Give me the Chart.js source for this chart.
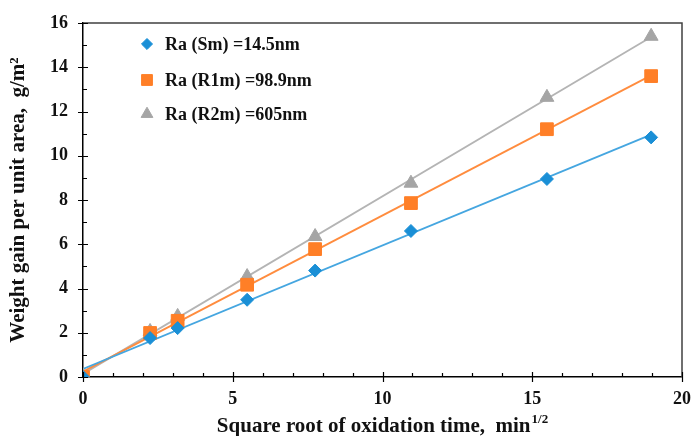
<!DOCTYPE html>
<html>
<head>
<meta charset="utf-8">
<script src="https://cdn.jsdelivr.net/npm/chart.js@4.4.1/dist/chart.umd.min.js"></script>
<style>
  html, body { margin: 0; padding: 0; background: #ffffff; }
  #wrap { width: 695px; height: 436px; }
</style>
</head>
<body>
<div id="wrap"><canvas id="c" width="695" height="436"></canvas></div>
<script>
// ---- data ----
const xValues   = [0, 2.24, 3.16, 5.48, 7.75, 10.95, 15.49, 18.97];   // sqrt(min)
const seriesSm  = [0, 1.76, 2.21, 3.49, 4.81, 6.60, 8.95, 10.83];
const seriesR1m = [0, 1.99, 2.54, 4.17, 5.78, 7.86, 11.20, 13.60];
const seriesR2m = [0.05, 2.06, 2.74, 4.54, 6.35, 8.76, 12.64, 15.40];
const seriesLabels = ['Ra (Sm) =14.5nm', 'Ra (R1m) =98.9nm', 'Ra (R2m) =605nm'];
const seriesColors = ['#1a8fd6', '#ff7f27', '#a5a5a5'];
const lineColors   = ['#45a6e0', '#ff8c3e', '#b4b4b4'];
const pointStyles  = ['rectRot', 'rect', 'triangle'];
const pointRadii   = [6.5, 9, 8];
const xTicks = [0, 5, 10, 15, 20];
const yTicks = [0, 2, 4, 6, 8, 10, 12, 14, 16];
const xTitle = 'Square root of oxidation time,  min';
const xTitleSup = '1/2';
const yTitle = 'Weight gain per unit area,  g/m²';

const allSeries = [seriesSm, seriesR1m, seriesR2m];
const toPoints = ys => xValues.map((x, i) => ({ x: x, y: ys[i] }));

// Linear least-squares trend line (as in the original spreadsheet chart)
function trend(ys) {
  const n = xValues.length;
  let sx = 0, sy = 0, sxx = 0, sxy = 0;
  for (let i = 0; i < n; i++) { sx += xValues[i]; sy += ys[i]; sxx += xValues[i] * xValues[i]; sxy += xValues[i] * ys[i]; }
  const m = (n * sxy - sx * sy) / (n * sxx - sx * sx);
  const b = (sy - m * sx) / n;
  const x0 = xValues[0], x1 = xValues[n - 1];
  return [{ x: x0, y: m * x0 + b }, { x: x1, y: m * x1 + b }];
}

const datasets = [];
allSeries.forEach((ys, i) => {
  datasets.push({
    label: seriesLabels[i],
    data: toPoints(ys),
    showLine: false,
    pointStyle: pointStyles[i],
    pointRadius: pointRadii[i],
    pointHoverRadius: pointRadii[i],
    backgroundColor: seriesColors[i],
    borderColor: seriesColors[i],
    pointBorderWidth: 1,
    order: 0
  });
});
allSeries.forEach((ys, i) => {
  datasets.push({
    label: seriesLabels[i] + ' trend',
    data: trend(ys),
    showLine: true,
    pointRadius: 0,
    borderColor: lineColors[i],
    borderWidth: 1.8,
    fill: false,
    order: 1
  });
});

const FONT = '"Liberation Serif", "Times New Roman", serif';

const decor = {
  id: 'decor',
  afterDraw(chart) {
    const ctx = chart.ctx;
    const xs = chart.scales.x, ys = chart.scales.y;
    const a = chart.chartArea;
    ctx.save();
    // frame top / right
    ctx.strokeStyle = '#404040';
    ctx.lineWidth = 1.5;
    ctx.beginPath();
    ctx.moveTo(a.left, a.top); ctx.lineTo(a.right, a.top); ctx.lineTo(a.right, a.bottom);
    ctx.stroke();
    // ticks
    ctx.strokeStyle = '#000';
    ctx.lineWidth = 1.2;
    ctx.beginPath();
    for (let v = xs.min; v <= xs.max; v += 1) {
      const px = Math.round(xs.getPixelForValue(v)) + 0.5;
      if (xTicks.includes(v)) { ctx.moveTo(px, a.bottom - 5); ctx.lineTo(px, a.bottom + 5); }
      else { ctx.moveTo(px, a.bottom); ctx.lineTo(px, a.bottom - 4); }
    }
    for (let v = ys.min; v <= ys.max; v += 1) {
      const py = Math.round(ys.getPixelForValue(v)) + 0.5;
      if (yTicks.includes(v)) { ctx.moveTo(a.left - 5, py); ctx.lineTo(a.left + 5, py); }
      else { ctx.moveTo(a.left, py); ctx.lineTo(a.left + 4, py); }
    }
    ctx.stroke();
    // x title with superscript
    ctx.fillStyle = '#111';
    ctx.font = 'bold 21px ' + FONT;
    const wMain = ctx.measureText(xTitle).width;
    ctx.font = 'bold 13px ' + FONT;
    const wSup = ctx.measureText(xTitleSup).width;
    const cx = (a.left + a.right) / 2;
    const startX = cx - (wMain + wSup + 1) / 2;
    const baseY = 432;
    ctx.textBaseline = 'alphabetic';
    ctx.textAlign = 'left';
    ctx.font = 'bold 21px ' + FONT;
    ctx.fillText(xTitle, startX, baseY);
    ctx.font = 'bold 13px ' + FONT;
    ctx.fillText(xTitleSup, startX + wMain + 1, baseY - 9);
    // legend
    const lx = 147, tx = 165, rows = [44, 80, 114];
    chart.data.datasets.slice(0, 3).forEach((ds, i) => {
      ctx.fillStyle = ds.backgroundColor;
      ctx.strokeStyle = ds.borderColor;
      ctx.lineWidth = 1;
      Chart.helpers.drawPoint(ctx, { pointStyle: ds.pointStyle, radius: ds.pointRadius * 0.85, borderWidth: 1, rotation: 0 }, lx, rows[i]);
      ctx.fillStyle = '#111';
      ctx.font = 'bold 18px ' + FONT;
      ctx.textBaseline = 'middle';
      ctx.fillText(ds.label, tx, rows[i] + 1);
    });
    ctx.restore();
  }
};

new Chart(document.getElementById('c'), {
  type: 'scatter',
  data: { datasets: datasets },
  options: {
    responsive: false,
    animation: false,
    layout: { padding: { top: 23, right: 3, left: 0, bottom: 0 } },
    plugins: { legend: { display: false }, tooltip: { enabled: false } },
    scales: {
      x: {
        type: 'linear', min: 0, max: 20,
        afterFit: s => { s.height = 59; },
        afterBuildTicks: s => { s.ticks = xTicks.map(v => ({ value: v })); },
        grid: { display: false },
        border: { display: true, color: '#000', width: 1.5 },
        ticks: { color: '#111', padding: 4, font: { family: FONT, size: 18, weight: 'bold' }, maxRotation: 0 }
      },
      y: {
        type: 'linear', min: 0, max: 16,
        afterFit: s => { s.width = 83; },
        afterBuildTicks: s => { s.ticks = yTicks.map(v => ({ value: v })); },
        grid: { display: false },
        border: { display: true, color: '#000', width: 1.5 },
        ticks: { color: '#111', padding: 7, font: { family: FONT, size: 18, weight: 'bold' } },
        title: { display: true, text: yTitle, color: '#111', padding: { top: 6, bottom: 0 }, font: { family: FONT, size: 21, weight: 'bold' } }
      }
    }
  },
  plugins: [decor]
});
</script>
</body>
</html>
